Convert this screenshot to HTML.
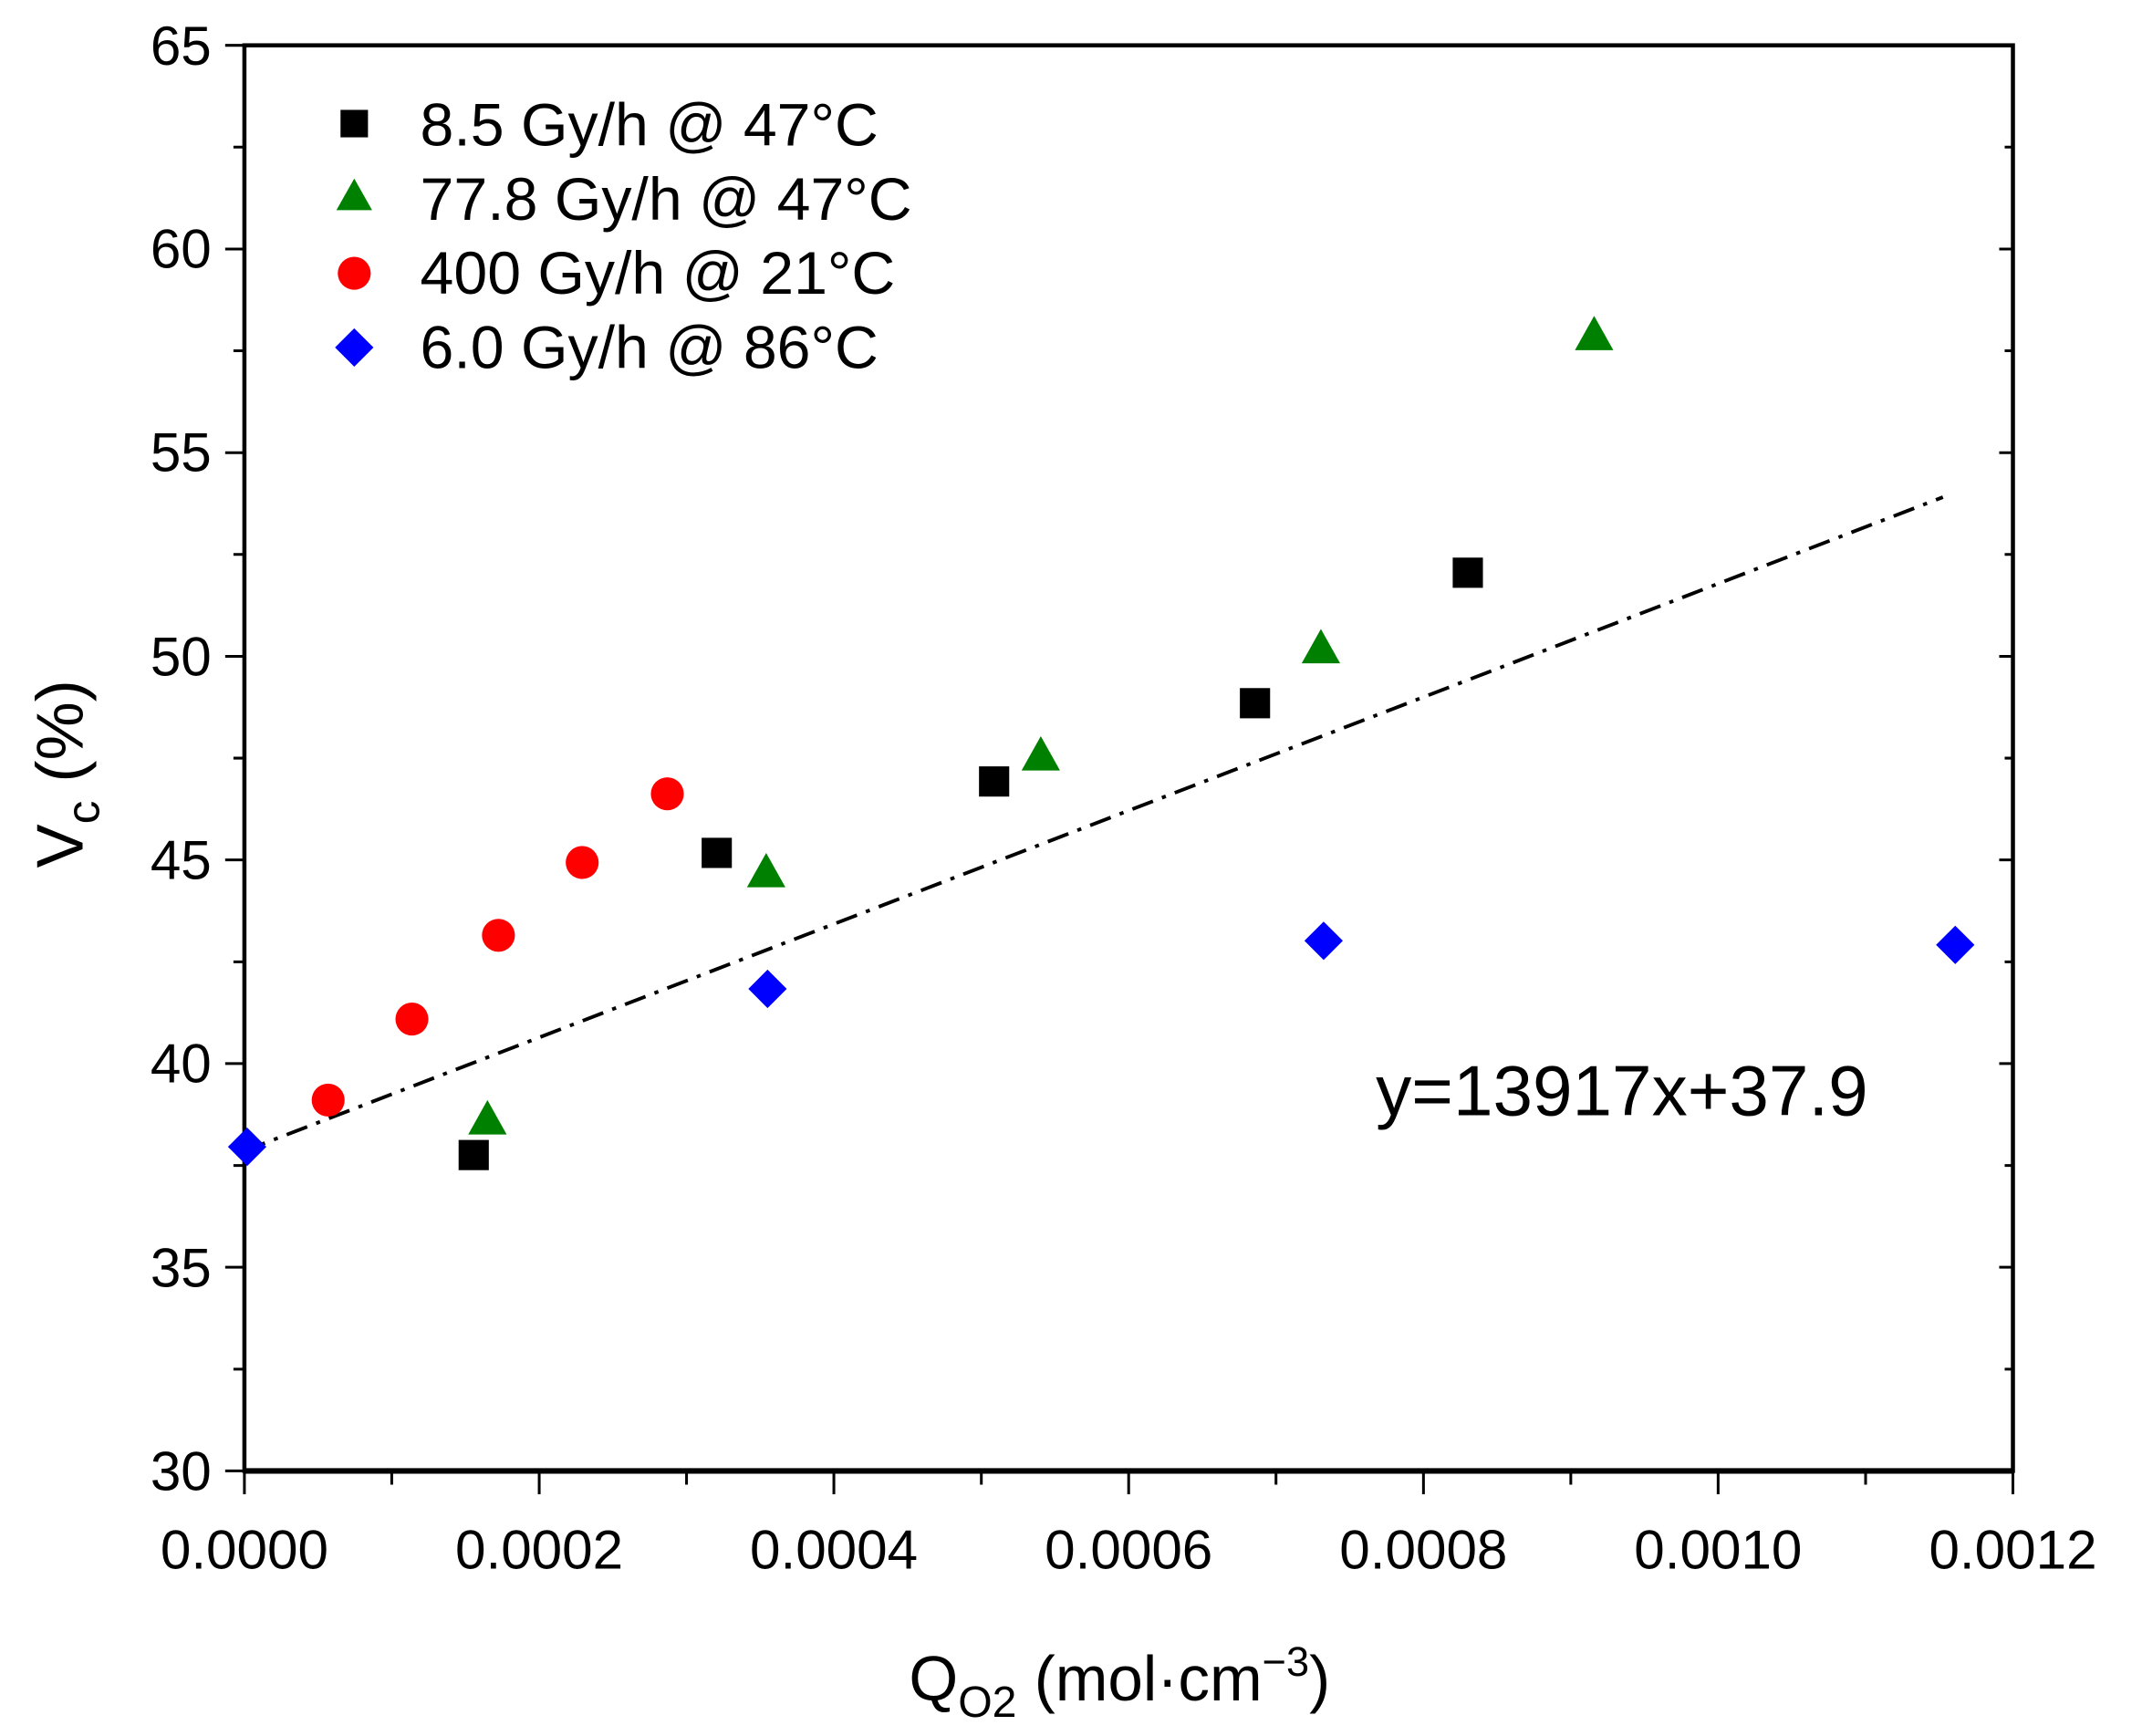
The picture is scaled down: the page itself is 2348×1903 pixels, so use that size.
<!DOCTYPE html>
<html><head><meta charset="utf-8"><style>html,body{margin:0;padding:0;background:#fff}svg{display:block}</style></head>
<body>
<svg width="2348" height="1903" viewBox="0 0 1560 1264" preserveAspectRatio="none" xmlns="http://www.w3.org/2000/svg" font-family="Liberation Sans, Arial, sans-serif">
<rect width="1560" height="1264" fill="#fff"/>
<g stroke="#000" stroke-width="3" fill="none">
<rect x="178" y="33" width="1288" height="1038"/>
</g>
<line x1="178" y1="1071" x2="1466" y2="1071" stroke="#000" stroke-width="4"/>
<g stroke="#000" stroke-width="2">
<path d="M164 33H178M164 181.3H178M164 329.6H178M164 477.9H178M164 626.1H178M164 774.4H178M164 922.7H178M164 1071H178"/>
<path d="M170 107.1H178M170 255.4H178M170 403.7H178M170 552H178M170 700.3H178M170 848.6H178M170 996.9H178"/>
<path d="M1466 181.3H1456M1466 329.6H1456M1466 477.9H1456M1466 626.1H1456M1466 774.4H1456M1466 922.7H1456"/>
<path d="M1466 107.1H1460M1466 255.4H1460M1466 403.7H1460M1466 552H1460M1466 700.3H1460M1466 848.6H1460M1466 996.9H1460"/>
<path d="M178 1071V1088M392.7 1071V1088M607.3 1071V1088M822 1071V1088M1036.7 1071V1088M1251.3 1071V1088M1466 1071V1088"/>
<path d="M285.3 1071V1081M500 1071V1081M714.7 1071V1081M929.3 1071V1081M1144 1071V1081M1358.7 1071V1081"/>
</g>
<g font-size="40" fill="#000" text-anchor="end">
<text x="154" y="47">65</text><text x="154" y="195">60</text><text x="154" y="343">55</text><text x="154" y="492">50</text><text x="154" y="640">45</text><text x="154" y="788">40</text><text x="154" y="937">35</text><text x="154" y="1085">30</text>
</g>
<g font-size="40" fill="#000" text-anchor="middle">
<text x="178" y="1142">0.0000</text><text x="392.7" y="1142">0.0002</text><text x="607.3" y="1142">0.0004</text><text x="822" y="1142">0.0006</text><text x="1036.7" y="1142">0.0008</text><text x="1251.3" y="1142">0.0010</text><text x="1466" y="1142">0.0012</text>
</g>
<text x="662" y="1238" font-size="46">Q<tspan font-size="32" dy="12">O2</tspan><tspan dy="-12"> (mol·cm</tspan><tspan font-size="30" dy="-18">−3</tspan><tspan dy="18">)</tspan></text>
<text transform="translate(60,632) rotate(-90)" font-size="48">V<tspan font-size="34" dy="12">c</tspan><tspan dy="-12"> (%)</tspan></text>
<line x1="178" y1="838" x2="1415" y2="362" stroke="#000" stroke-width="2.6" stroke-dasharray="16,7,3,7"/>
<text x="1002" y="812" font-size="52">y=13917x+37.9</text>
<rect x="248" y="80" width="20" height="20" fill="#000"/>
<polygon points="258,130 271,153 245,153" fill="#008000"/>
<circle cx="258" cy="199" r="12" fill="#ff0000"/>
<polygon points="258,239 272,253 258,267 244,253" fill="#0000ff"/>
<g font-size="44" fill="#000">
<text x="306" y="106">8.5 Gy/h @ 47°C</text>
<text x="306" y="160">77.8 Gy/h @ 47°C</text>
<text x="306" y="214">400 Gy/h @ 21°C</text>
<text x="306" y="268">6.0 Gy/h @ 86°C</text>
</g>
<g fill="#ff0000">
<circle cx="239" cy="801" r="12"/><circle cx="300" cy="742" r="12"/><circle cx="363" cy="681" r="12"/><circle cx="424" cy="628" r="12"/><circle cx="486" cy="578" r="12"/>
</g>
<g fill="#0000ff">
<polygon points="180,821 194,835 180,849 166,835"/>
<polygon points="559,706 573,720 559,734 545,720"/>
<polygon points="964,671 978,685 964,699 950,685"/>
<polygon points="1424,674 1438,688 1424,702 1410,688"/>
</g>
<g fill="#000">
<rect x="334" y="830" width="22" height="22"/><rect x="511" y="610" width="22" height="22"/><rect x="713" y="558" width="22" height="22"/><rect x="903" y="501" width="22" height="22"/><rect x="1058" y="406" width="22" height="22"/>
</g>
<g fill="#008000">
<polygon points="355,801 369,826 341,826"/>
<polygon points="558,621 572,646 544,646"/>
<polygon points="758,536 772,561 744,561"/>
<polygon points="962,458 976,483 948,483"/>
<polygon points="1161,230 1175,255 1147,255"/>
</g>
</svg>
</body></html>
